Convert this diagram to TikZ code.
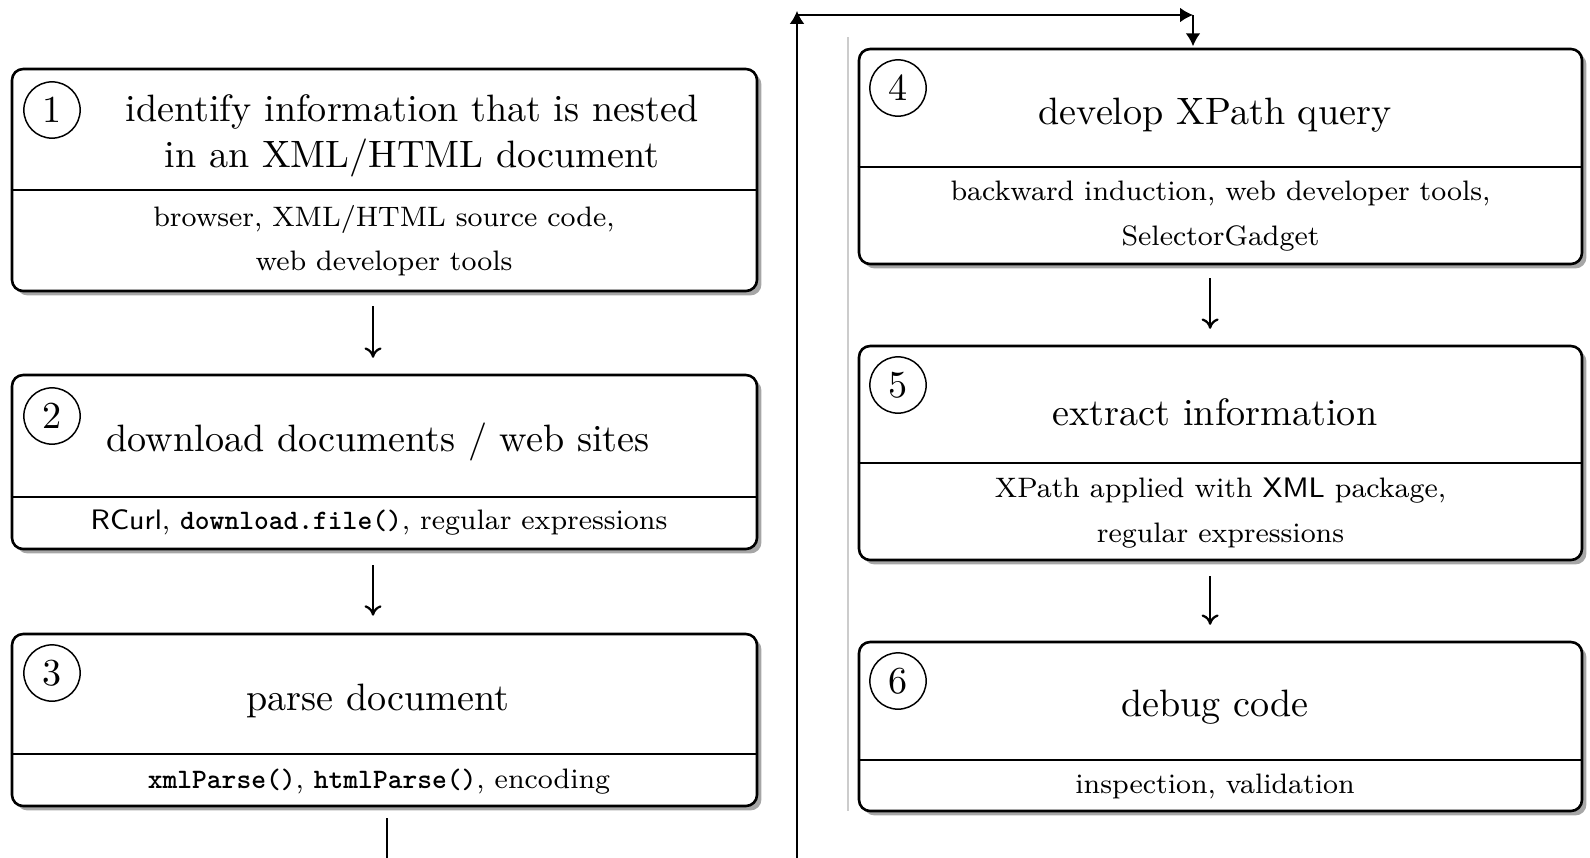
\documentclass[tikz,border=0pt]{standalone}
\usetikzlibrary{arrows.meta,shadows,fit}
\begin{document}
\begin{tikzpicture}[x=0.27pt,y=-0.27pt,
  stage/.style={draw, line width=0.7pt, rounded corners=3pt, fill=white, inner sep=0pt,
    drop shadow={shadow xshift=1.2pt, shadow yshift=-1.2pt, fill=black, opacity=0.35}},
  divider/.style={line width=0.7pt},
  stepnum/.style={draw, circle, line width=0.4pt, minimum size=15.2pt, inner sep=0pt,
    font=\fontsize{10.3}{12}\selectfont},
  headline/.style={font=\fontsize{10.3}{12.3}\selectfont, align=center, inner sep=0pt},
  toolline/.style={font=\fontsize{7.6}{12}\selectfont, align=center, inner sep=0pt},
  flow/.style={line width=0.6pt, -{Computer Modern Rightarrow[length=2.8pt,width=4.6pt]}},
  backline/.style={line width=0.5pt, -{Latex[length=3.5pt,width=4pt]}},
  plainline/.style={line width=0.5pt},
  colrule/.style={line width=0.3pt, black!20}
]
\useasboundingbox (0,0) rectangle (1590,857);

% thin rule separating the two columns
\draw[colrule] (848,37) -- (848,811);

% ---- left column: stages 1-3 ----
\node[stage, fit={(12,69) (757,291)}] (b1) {};
\draw[divider] (b1.west |- 0,190) -- (b1.east |- 0,190);
\node[stepnum] (n1) at (52,110) {1};
\node[headline] (t1) at (412,136) {identify information that is nested\\in an XML/HTML document};
\node[toolline] (s1) at (384,240.5) {browser, XML/HTML source code,\\web developer tools};

\node[stage, fit={(12,375) (757,549)}] (b2) {};
\draw[divider] (b2.west |- 0,497) -- (b2.east |- 0,497);
\node[stepnum] (n2) at (52,416) {2};
\node[headline] (t2) at (378,442) {download documents / web sites};
\node[toolline] (s2) at (379,522) {\textsf{RCurl}, \texttt{\bfseries download.file()}, regular expressions};

\node[stage, fit={(12,634) (757,806)}] (b3) {};
\draw[divider] (b3.west |- 0,754) -- (b3.east |- 0,754);
\node[stepnum] (n3) at (52,673) {3};
\node[headline] (t3) at (378,700.5) {parse document};
\node[toolline] (s3) at (379,782) {\texttt{\bfseries xmlParse()}, \texttt{\bfseries htmlParse()}, encoding};

% ---- right column: stages 4-6 ----
\node[stage, fit={(859,49) (1582,264)}] (b4) {};
\draw[divider] (b4.west |- 0,167) -- (b4.east |- 0,167);
\node[stepnum] (n4) at (898,88) {4};
\node[headline] (t4) at (1215,115.5) {develop XPath query};
\node[toolline] (s4) at (1220.5,216) {backward induction, web developer tools,\\SelectorGadget};

\node[stage, fit={(859,346) (1582,560)}] (b5) {};
\draw[divider] (b5.west |- 0,463) -- (b5.east |- 0,463);
\node[stepnum] (n5) at (898,385) {5};
\node[headline] (t5) at (1215,412.5) {extract information};
\node[toolline] (s5) at (1220.5,513) {XPath applied with \textsf{XML} package,\\regular expressions};

\node[stage, fit={(859,642) (1582,811)}] (b6) {};
\draw[divider] (b6.west |- 0,760) -- (b6.east |- 0,760);
\node[stepnum] (n6) at (898,681) {6};
\node[headline] (t6) at (1215,707.5) {debug code};
\node[toolline] (s6) at (1215,786) {inspection, validation};

% ---- flow between stages ----
\draw[flow] ([xshift=-3.1pt,yshift=-3.8pt]b1.south) -- ([xshift=-3.1pt,yshift=4.3pt]b2.north);
\draw[flow] ([xshift=-3.1pt,yshift=-4pt]b2.south) -- ([xshift=-3.1pt,yshift=4.6pt]b3.north);
\draw[flow] ([xshift=-2.8pt,yshift=-3.5pt]b4.south) -- ([xshift=-2.8pt,yshift=4.3pt]b5.north);
\draw[flow] ([xshift=-2.8pt,yshift=-4pt]b5.south) -- ([xshift=-2.8pt,yshift=4.3pt]b6.north);

% ---- loop from stage 3 back up to stage 4 ----
\coordinate (exit) at (386.7,860);
\coordinate (rise) at (797,860);
\coordinate (corner) at (797,15);
\coordinate (turn) at (1193,15);
\draw[plainline, shorten <=3pt] (b3.south -| exit) -- (exit);
\draw[backline] (rise) -- ([yshift=1.1pt]corner);
\draw[backline] (corner) -- (turn);
\draw[backline, shorten >=0.4pt] (turn) -- (turn |- b4.north);
\end{tikzpicture}
\end{document}
